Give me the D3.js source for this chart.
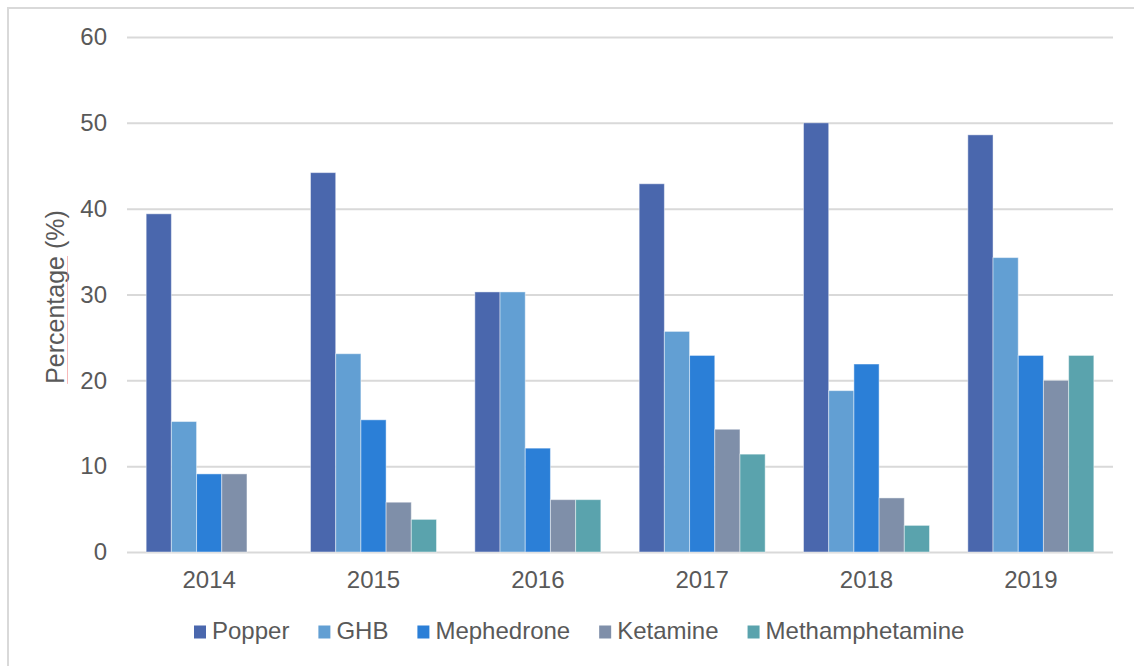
<!DOCTYPE html>
<html>
<head>
<meta charset="utf-8">
<script src="https://cdn.jsdelivr.net/npm/d3@7"></script>
<style>
  html, body { margin: 0; padding: 0; background: #ffffff; }
  svg { display: block; }
  text { font-family: Arial, "Liberation Sans", sans-serif; fill: #595959; }
</style>
</head>
<body>
<svg id="chart" width="1134" height="666"></svg>
<script>
// Survey years and substances
const years = ["2014", "2015", "2016", "2017", "2018", "2019"];
const substances = ["Popper", "GHB", "Mephedrone", "Ketamine", "Methamphetamine"];

// Share of respondents (%) per substance, one entry per year
const popper          = [39.4, 44.2, 30.3, 42.9, 50.0, 48.6];
const ghb             = [15.2, 23.1, 30.3, 25.7, 18.8, 34.3];
const mephedrone      = [9.1, 15.4, 12.1, 22.9, 21.9, 22.9];
const ketamine        = [9.1, 5.8, 6.1, 14.3, 6.3, 20.0];
const methamphetamine = [0, 3.8, 6.1, 11.4, 3.1, 22.9];

const yTicks = [0, 10, 20, 30, 40, 50, 60];
const yTitle = "Percentage (%)";

const colors = ["#4a67ad", "#629fd3", "#2b7fd7", "#7f8fa9", "#5aa3ad"];

const seriesValues = [popper, ghb, mephedrone, ketamine, methamphetamine];
const rows = years.map((yr, i) => ({
  year: yr,
  values: substances.map((s, k) => ({ key: s, value: seriesValues[k][i] }))
}));

const svg = d3.select("#chart");
const margin = { left: 127, right: 1113, top: 37, bottom: 552 };
const fontSize = "24px";

// Outer chart frame
svg.append("rect")
  .attr("x", 8).attr("y", 8)
  .attr("width", 1160).attr("height", 700)
  .attr("fill", "none")
  .attr("stroke", "#d9d9d9")
  .attr("stroke-width", 2);

const x0 = d3.scaleBand()
  .domain(years)
  .range([margin.left, margin.right])
  .paddingInner(0.2333)
  .paddingOuter(0.11665);

const x1 = d3.scaleBand()
  .domain(substances)
  .range([0, x0.bandwidth()])
  .padding(0);

const y = d3.scaleLinear()
  .domain([0, 60])
  .range([margin.bottom, margin.top]);

const color = d3.scaleOrdinal().domain(substances).range(colors);

// Y axis with horizontal gridlines
const yAxis = svg.append("g")
  .attr("transform", `translate(${margin.left},0)`)
  .call(d3.axisLeft(y)
    .tickValues(yTicks)
    .tickSize(-(margin.right - margin.left))
    .tickPadding(20));
yAxis.select(".domain").remove();
yAxis.selectAll(".tick line")
  .attr("stroke", "#d9d9d9")
  .attr("stroke-width", 2);
yAxis.selectAll(".tick text")
  .style("font-size", fontSize)
  .style("font-family", "Arial, 'Liberation Sans', sans-serif")
  .attr("fill", "#595959");

// Bars
const groups = svg.append("g")
  .selectAll("g")
  .data(rows)
  .join("g")
  .attr("transform", d => `translate(${x0(d.year)},0)`);

groups.selectAll("rect")
  .data(d => d.values.filter(v => v.value > 0))
  .join("rect")
  .attr("x", d => x1(d.key))
  .attr("y", d => y(d.value))
  .attr("width", x1.bandwidth())
  .attr("height", d => y(0) - y(d.value))
  .attr("fill", d => color(d.key))
  .attr("stroke", "#ffffff")
  .attr("stroke-opacity", 0.45)
  .attr("stroke-width", 1);

// X axis labels
const xAxis = svg.append("g")
  .attr("transform", `translate(0,${margin.bottom})`)
  .call(d3.axisBottom(x0).tickSize(0).tickPadding(19));
xAxis.select(".domain").remove();
xAxis.selectAll(".tick text")
  .style("font-size", fontSize)
  .style("font-family", "Arial, 'Liberation Sans', sans-serif")
  .attr("fill", "#595959");

// Y axis title
const titleY = 297;
const title = svg.append("text")
  .attr("transform", `translate(64,${titleY}) rotate(-90)`)
  .attr("text-anchor", "middle")
  .style("font-size", "25px")
  .text(yTitle);

// Proofing underline beneath the first word of the title
const firstWord = yTitle.split(" ")[0];
const titleNode = title.node();
const fullLen = titleNode.getComputedTextLength();
const wordLen = titleNode.getSubStringLength(0, firstWord.length);
svg.append("line")
  .attr("x1", 67.5).attr("x2", 67.5)
  .attr("y1", titleY + fullLen / 2)
  .attr("y2", titleY + fullLen / 2 - wordLen)
  .attr("stroke", "#f08080")
  .attr("stroke-opacity", 0.55)
  .attr("stroke-width", 1);

// Legend
const legend = svg.append("g").attr("transform", "translate(194,0)");
let lx = 0;
substances.forEach((s, k) => {
  const item = legend.append("g").attr("transform", `translate(${lx},0)`);
  item.append("rect")
    .attr("x", 0).attr("y", 625.5)
    .attr("width", 12).attr("height", 13)
    .attr("fill", colors[k]);
  const t = item.append("text")
    .attr("x", 18)
    .attr("y", 639)
    .style("font-size", fontSize)
    .text(s);
  lx += 18 + t.node().getComputedTextLength() + 29;
});
</script>
</body>
</html>
